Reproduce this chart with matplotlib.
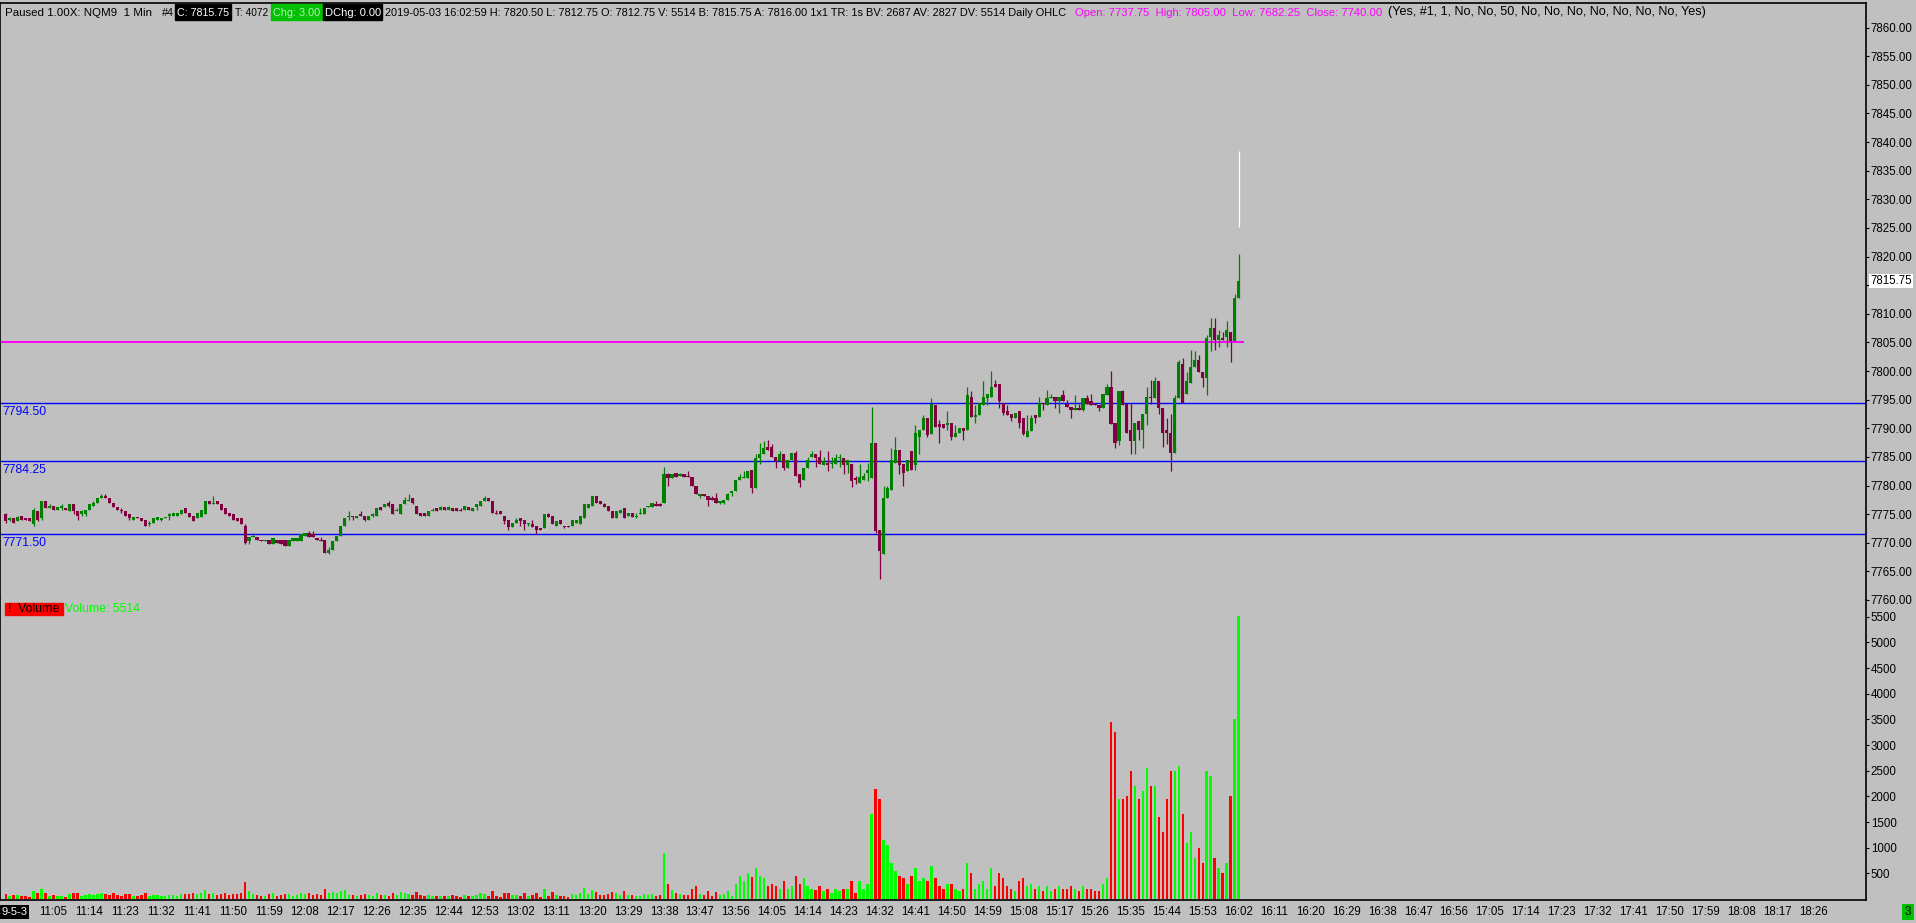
import matplotlib
matplotlib.use("Agg")
import matplotlib.pyplot as plt
from matplotlib.patches import Rectangle
import numpy as np

# ---- data: 1 minute NQM9 bars, 10:53 .. 16:02 ----
first_bar_time = "10:53"

opens = [
    7775.0, 7774.0, 7774.25, 7773.75, 7774.75, 7774.25, 7774.25, 7773.25, 7775.5, 7774.25,
    7777.25, 7776.0, 7776.5, 7775.75, 7776.0, 7776.0, 7775.5, 7776.75, 7775.5, 7775.0,
    7775.0, 7775.75, 7776.5, 7777.0, 7777.75, 7778.25, 7777.75, 7777.0, 7776.25, 7775.75,
    7775.5, 7775.0, 7774.0, 7774.5, 7774.25, 7774.0, 7773.25, 7773.5, 7774.0, 7774.0,
    7774.25, 7774.75, 7774.75, 7774.75, 7775.0, 7776.0, 7775.25, 7774.75, 7774.25, 7774.5,
    7775.0, 7777.25, 7776.75, 7777.25, 7776.75, 7776.0, 7775.25, 7775.0, 7774.25, 7774.25,
    7773.0, 7770.25, 7771.0, 7771.0, 7770.5, 7770.25, 7770.5, 7769.75, 7770.5, 7770.5,
    7770.5, 7769.5, 7770.25, 7770.25, 7770.25, 7771.25, 7771.75, 7771.5, 7770.75, 7770.5,
    7770.5, 7768.25, 7768.75, 7770.25, 7771.25, 7773.0, 7774.5, 7774.75, 7774.25, 7775.0,
    7774.75, 7774.0, 7774.75, 7774.75, 7776.25, 7776.25, 7777.0, 7776.75, 7775.5, 7775.0,
    7776.75, 7777.25, 7777.75, 7776.5, 7775.25, 7775.25, 7774.75, 7775.5, 7776.0, 7775.75,
    7776.25, 7775.75, 7776.0, 7776.0, 7775.75, 7775.75, 7776.25, 7775.5, 7776.25, 7776.5,
    7777.25, 7777.75, 7777.25, 7775.25, 7775.5, 7774.75, 7774.0, 7772.75, 7773.5, 7774.25,
    7774.0, 7773.25, 7773.25, 7773.0, 7772.5, 7772.5, 7775.0, 7774.75, 7773.0, 7774.0,
    7773.0, 7773.0, 7773.0, 7773.5, 7773.25, 7774.25, 7776.0, 7776.5, 7778.25, 7777.25,
    7776.75, 7776.5, 7775.5, 7774.25, 7775.25, 7776.0, 7774.75, 7775.25, 7774.5, 7775.0,
    7775.0, 7776.25, 7776.25, 7776.75, 7776.75, 7777.0, 7782.0, 7781.25, 7782.25, 7781.75,
    7782.0, 7781.75, 7781.5, 7780.0, 7778.25, 7778.5, 7778.25, 7777.75, 7777.75, 7777.0,
    7777.0, 7777.5, 7778.75, 7779.0, 7781.0, 7781.25, 7781.25, 7782.75, 7779.5, 7784.75,
    7785.5, 7786.75, 7786.75, 7785.0, 7784.25, 7785.5, 7783.0, 7784.5, 7785.75, 7782.0,
    7781.0, 7783.0, 7785.0, 7785.5, 7785.0, 7783.5, 7784.0, 7783.75, 7783.75, 7784.75,
    7784.75, 7783.5, 7783.75, 7781.25, 7780.5, 7781.0, 7782.25, 7781.25, 7787.5, 7772.25,
    7768.0, 7777.75, 7779.25, 7784.0, 7786.25, 7783.75, 7782.5, 7786.0, 7783.5, 7788.5,
    7789.75, 7791.75, 7789.0, 7794.0, 7790.75, 7790.75, 7790.5, 7791.0, 7788.5, 7789.25,
    7790.0, 7789.75, 7795.5, 7792.0, 7792.25, 7794.0, 7795.25, 7795.5, 7797.75, 7797.75,
    7794.5, 7793.0, 7792.5, 7791.75, 7793.0, 7791.75, 7788.5, 7789.5, 7792.25, 7792.0,
    7794.5, 7794.0, 7795.25, 7795.5, 7794.75, 7795.75, 7794.25, 7793.75, 7793.25, 7793.5,
    7793.25, 7795.25, 7794.75, 7794.25, 7794.0, 7793.5, 7795.75, 7797.25, 7791.0, 7787.75,
    7796.5, 7794.25, 7789.75, 7787.75, 7791.25, 7789.75, 7792.5, 7795.5, 7795.25, 7798.25,
    7793.5, 7789.75, 7789.25, 7785.75, 7795.25, 7801.25, 7796.0, 7798.0, 7800.75, 7802.0,
    7799.75, 7798.75, 7806.0, 7807.5, 7805.5, 7805.75, 7806.0, 7806.75, 7805.25, 7812.75,
]
highs = [
    7775.25, 7774.5, 7774.25, 7774.75, 7774.75, 7774.25, 7774.25, 7776.0, 7775.5, 7777.25,
    7777.25, 7776.75, 7776.5, 7776.25, 7776.75, 7776.0, 7776.75, 7776.75, 7775.5, 7775.75,
    7775.75, 7776.75, 7777.25, 7777.75, 7778.5, 7778.5, 7777.75, 7777.0, 7776.25, 7776.0,
    7775.5, 7775.0, 7774.5, 7774.5, 7774.25, 7774.0, 7773.75, 7774.25, 7774.5, 7774.25,
    7774.5, 7775.25, 7775.25, 7775.25, 7775.75, 7776.0, 7775.25, 7774.75, 7775.25, 7775.75,
    7777.25, 7777.25, 7778.25, 7777.25, 7776.75, 7776.0, 7775.25, 7775.0, 7774.25, 7774.25,
    7773.25, 7771.0, 7771.75, 7771.0, 7770.5, 7770.5, 7770.5, 7770.75, 7770.5, 7770.5,
    7770.5, 7770.5, 7770.75, 7770.75, 7771.5, 7771.75, 7772.0, 7772.0, 7770.75, 7771.0,
    7770.5, 7769.25, 7770.25, 7771.25, 7773.0, 7774.25, 7775.5, 7774.75, 7774.75, 7775.5,
    7774.75, 7774.75, 7775.25, 7776.0, 7776.25, 7776.75, 7777.25, 7776.75, 7776.0, 7776.75,
    7778.0, 7778.5, 7777.75, 7776.5, 7775.25, 7775.25, 7775.5, 7776.0, 7776.0, 7776.5,
    7776.25, 7776.5, 7776.0, 7776.0, 7776.0, 7776.5, 7776.25, 7776.0, 7776.75, 7777.25,
    7778.25, 7777.75, 7777.25, 7775.75, 7775.5, 7774.75, 7774.0, 7773.5, 7774.25, 7774.25,
    7774.0, 7773.5, 7774.0, 7773.0, 7772.5, 7775.0, 7775.25, 7774.75, 7773.75, 7774.0,
    7773.0, 7773.0, 7774.0, 7774.0, 7774.75, 7776.75, 7776.75, 7778.25, 7778.25, 7777.25,
    7777.0, 7776.5, 7775.5, 7775.5, 7775.75, 7776.0, 7775.25, 7775.25, 7775.25, 7776.0,
    7776.0, 7776.5, 7777.0, 7777.25, 7777.0, 7783.25, 7782.25, 7782.0, 7782.25, 7782.25,
    7782.0, 7782.5, 7781.5, 7780.0, 7778.5, 7778.5, 7778.25, 7778.25, 7778.75, 7777.25,
    7777.5, 7778.75, 7779.0, 7781.0, 7782.0, 7782.5, 7782.5, 7782.75, 7785.5, 7787.5,
    7787.75, 7788.0, 7787.25, 7785.0, 7786.0, 7785.5, 7784.5, 7785.75, 7786.0, 7782.0,
    7783.0, 7785.0, 7786.0, 7785.5, 7786.25, 7785.0, 7786.0, 7785.0, 7785.5, 7785.5,
    7784.75, 7784.5, 7783.75, 7781.75, 7783.75, 7782.25, 7784.0, 7793.75, 7787.5, 7772.25,
    7780.0, 7780.0, 7786.5, 7788.5, 7786.25, 7783.75, 7784.5, 7786.0, 7790.5, 7789.75,
    7792.25, 7791.75, 7795.25, 7794.0, 7791.5, 7790.75, 7793.0, 7791.0, 7790.5, 7790.0,
    7790.0, 7797.25, 7796.5, 7794.0, 7794.5, 7798.25, 7796.0, 7800.0, 7798.5, 7797.75,
    7794.5, 7794.0, 7792.5, 7792.75, 7793.0, 7791.75, 7792.25, 7792.25, 7792.25, 7795.5,
    7794.5, 7796.75, 7796.0, 7795.5, 7795.5, 7796.75, 7795.0, 7793.75, 7795.75, 7794.25,
    7795.25, 7795.75, 7796.0, 7794.5, 7794.0, 7796.0, 7797.75, 7800.0, 7791.0, 7796.5,
    7796.75, 7794.25, 7794.5, 7791.0, 7791.25, 7792.5, 7797.25, 7798.5, 7799.0, 7798.25,
    7793.5, 7791.75, 7792.5, 7795.75, 7802.0, 7802.25, 7799.75, 7803.75, 7803.5, 7802.75,
    7799.75, 7806.25, 7809.25, 7809.25, 7807.25, 7806.75, 7808.75, 7806.75, 7813.5, 7820.5,
]
lows = [
    7773.5, 7773.75, 7773.5, 7773.75, 7774.0, 7774.0, 7773.75, 7773.0, 7773.75, 7774.0,
    7776.0, 7776.0, 7775.75, 7775.75, 7775.75, 7775.75, 7775.5, 7775.0, 7774.0, 7774.75,
    7774.75, 7775.75, 7776.5, 7777.0, 7777.75, 7777.75, 7777.0, 7776.25, 7775.75, 7775.25,
    7774.75, 7774.0, 7774.0, 7774.25, 7773.75, 7773.0, 7773.0, 7773.5, 7774.0, 7773.75,
    7774.25, 7774.0, 7774.75, 7774.75, 7775.0, 7775.25, 7774.5, 7773.75, 7774.25, 7774.5,
    7775.0, 7776.75, 7776.75, 7776.75, 7775.75, 7775.0, 7774.75, 7774.0, 7773.75, 7773.25,
    7769.75, 7769.75, 7771.0, 7770.5, 7770.25, 7770.25, 7769.75, 7769.75, 7770.0, 7769.75,
    7769.5, 7769.5, 7770.25, 7770.25, 7770.25, 7771.25, 7771.0, 7771.0, 7770.5, 7770.25,
    7768.25, 7768.0, 7768.75, 7770.25, 7771.25, 7773.0, 7774.0, 7774.0, 7774.25, 7774.75,
    7773.75, 7774.0, 7774.5, 7774.75, 7775.75, 7776.25, 7776.25, 7775.0, 7775.5, 7775.0,
    7776.75, 7777.25, 7776.75, 7775.0, 7774.75, 7774.75, 7774.75, 7775.5, 7775.5, 7775.75,
    7775.75, 7775.75, 7775.5, 7775.5, 7775.5, 7775.75, 7775.75, 7775.5, 7775.75, 7776.5,
    7777.25, 7777.25, 7775.25, 7775.0, 7775.0, 7773.25, 7772.25, 7772.75, 7773.5, 7773.0,
    7772.25, 7773.0, 7772.75, 7771.5, 7772.25, 7772.5, 7774.5, 7773.25, 7773.0, 7773.25,
    7772.5, 7772.75, 7773.0, 7773.5, 7773.25, 7774.25, 7776.0, 7776.5, 7777.0, 7776.75,
    7776.25, 7775.5, 7774.25, 7774.25, 7775.25, 7774.25, 7774.75, 7774.5, 7774.25, 7775.0,
    7775.0, 7776.25, 7776.25, 7776.5, 7776.5, 7777.0, 7780.0, 7781.25, 7781.5, 7781.75,
    7781.5, 7781.5, 7780.0, 7778.5, 7777.75, 7778.25, 7776.5, 7777.5, 7777.0, 7776.75,
    7776.75, 7777.5, 7778.25, 7779.0, 7781.0, 7781.25, 7781.25, 7778.75, 7779.5, 7783.75,
    7785.5, 7786.25, 7785.0, 7783.0, 7784.25, 7782.75, 7783.0, 7784.5, 7781.75, 7779.75,
    7781.0, 7783.0, 7785.0, 7783.25, 7783.75, 7783.5, 7782.5, 7783.0, 7783.75, 7783.25,
    7782.0, 7782.25, 7779.75, 7780.25, 7780.5, 7781.0, 7780.75, 7781.25, 7771.75, 7763.75,
    7768.0, 7777.75, 7779.25, 7784.0, 7782.0, 7780.0, 7782.5, 7782.75, 7782.75, 7785.5,
    7789.75, 7788.5, 7789.0, 7790.25, 7787.5, 7790.0, 7789.75, 7788.0, 7788.5, 7789.25,
    7788.0, 7789.75, 7792.0, 7791.0, 7792.25, 7794.0, 7794.0, 7795.5, 7797.25, 7793.5,
    7792.25, 7792.25, 7791.25, 7791.75, 7790.0, 7788.75, 7788.5, 7789.5, 7791.0, 7792.0,
    7793.25, 7794.0, 7795.25, 7793.5, 7792.75, 7794.75, 7793.75, 7791.75, 7793.25, 7793.25,
    7793.0, 7794.25, 7794.0, 7794.0, 7793.0, 7793.5, 7795.75, 7790.75, 7786.5, 7787.0,
    7794.0, 7789.25, 7785.5, 7785.5, 7788.0, 7786.5, 7790.5, 7794.25, 7795.25, 7792.5,
    7786.75, 7787.25, 7782.5, 7785.75, 7795.25, 7794.5, 7796.0, 7798.0, 7800.75, 7799.75,
    7797.25, 7795.75, 7803.5, 7803.75, 7804.25, 7805.5, 7804.25, 7801.5, 7805.25, 7812.75,
]
closes = [
    7773.75, 7774.25, 7773.5, 7774.5, 7774.0, 7774.0, 7773.75, 7775.75, 7774.0, 7777.25,
    7776.0, 7776.5, 7775.75, 7776.25, 7776.5, 7775.75, 7776.75, 7775.5, 7774.75, 7775.5,
    7775.75, 7776.75, 7777.0, 7777.75, 7778.25, 7777.75, 7777.0, 7776.25, 7775.75, 7775.5,
    7774.75, 7774.25, 7774.5, 7774.25, 7773.75, 7773.0, 7773.5, 7774.25, 7774.5, 7774.25,
    7774.5, 7775.0, 7775.25, 7775.25, 7775.75, 7775.25, 7774.5, 7773.75, 7775.25, 7775.75,
    7777.25, 7776.75, 7777.0, 7776.75, 7775.75, 7775.0, 7774.75, 7774.0, 7773.75, 7773.25,
    7770.0, 7771.0, 7771.25, 7770.5, 7770.25, 7770.5, 7769.75, 7770.75, 7770.0, 7769.75,
    7769.5, 7770.5, 7770.75, 7770.75, 7771.5, 7771.75, 7771.0, 7771.0, 7770.5, 7770.25,
    7768.25, 7768.75, 7770.25, 7771.25, 7773.0, 7774.25, 7774.75, 7774.5, 7774.75, 7774.75,
    7774.0, 7774.75, 7775.0, 7776.0, 7775.75, 7776.75, 7776.5, 7775.0, 7775.75, 7776.75,
    7777.5, 7777.5, 7777.0, 7775.0, 7774.75, 7774.75, 7775.5, 7775.75, 7775.5, 7776.25,
    7775.75, 7776.25, 7775.5, 7775.5, 7775.5, 7776.5, 7775.75, 7776.0, 7776.75, 7777.25,
    7777.75, 7777.25, 7775.25, 7775.0, 7775.0, 7773.75, 7772.75, 7773.5, 7774.0, 7773.75,
    7773.25, 7773.5, 7772.75, 7772.25, 7772.25, 7775.0, 7774.5, 7773.25, 7773.75, 7773.25,
    7772.75, 7772.75, 7774.0, 7774.0, 7774.75, 7776.75, 7776.75, 7778.25, 7777.0, 7776.75,
    7776.25, 7775.5, 7774.25, 7775.5, 7775.75, 7774.25, 7775.25, 7774.5, 7774.75, 7775.25,
    7776.0, 7776.5, 7777.0, 7776.5, 7776.5, 7782.0, 7781.25, 7782.0, 7781.5, 7782.0,
    7781.5, 7781.5, 7780.0, 7778.5, 7778.5, 7778.25, 7777.5, 7777.5, 7777.0, 7777.25,
    7777.5, 7778.5, 7779.0, 7781.0, 7781.5, 7781.5, 7782.5, 7779.5, 7784.75, 7785.5,
    7786.5, 7786.25, 7785.0, 7784.25, 7785.5, 7783.0, 7784.5, 7785.75, 7781.75, 7780.5,
    7783.0, 7784.5, 7785.5, 7784.75, 7783.75, 7784.25, 7783.5, 7784.0, 7784.75, 7785.0,
    7783.5, 7784.5, 7780.75, 7781.0, 7781.5, 7781.75, 7782.75, 7787.5, 7772.0, 7768.5,
    7777.75, 7779.5, 7784.5, 7786.25, 7783.5, 7782.25, 7784.5, 7782.75, 7789.25, 7789.75,
    7791.75, 7788.75, 7794.25, 7790.25, 7790.25, 7790.0, 7791.0, 7788.5, 7789.25, 7790.0,
    7789.5, 7795.75, 7792.0, 7792.25, 7794.5, 7795.5, 7796.0, 7797.25, 7797.25, 7794.75,
    7792.75, 7792.25, 7791.75, 7792.75, 7791.0, 7789.0, 7789.5, 7791.75, 7791.75, 7794.5,
    7794.25, 7795.25, 7795.5, 7794.75, 7795.5, 7794.75, 7793.75, 7793.25, 7793.5, 7793.25,
    7795.25, 7794.25, 7794.0, 7794.0, 7793.5, 7796.0, 7797.25, 7790.75, 7787.5, 7796.5,
    7794.0, 7789.25, 7787.75, 7791.0, 7789.75, 7792.5, 7795.5, 7795.25, 7798.25, 7793.5,
    7789.25, 7789.25, 7785.75, 7795.25, 7801.5, 7794.5, 7798.25, 7800.75, 7802.0, 7799.75,
    7798.75, 7805.75, 7807.5, 7805.5, 7806.25, 7805.5, 7807.25, 7805.25, 7812.75, 7815.75,
]
volumes = [
    90, 60, 70, 80, 50, 60, 40, 150, 110, 200,
    120, 60, 80, 50, 60, 40, 90, 110, 120, 60,
    70, 100, 80, 90, 120, 90, 80, 110, 70, 60,
    90, 100, 60, 50, 70, 110, 60, 80, 70, 50,
    60, 70, 80, 60, 90, 100, 90, 110, 100, 120,
    180, 90, 120, 70, 100, 110, 80, 100, 90, 120,
    330, 150, 90, 80, 60, 50, 90, 110, 60, 80,
    90, 100, 60, 80, 120, 90, 110, 80, 90, 70,
    200, 120, 130, 110, 150, 170, 80, 70, 60, 70,
    90, 80, 60, 110, 70, 80, 60, 120, 70, 130,
    110, 90, 80, 130, 70, 60, 80, 50, 60, 50,
    60, 50, 70, 60, 40, 70, 50, 60, 80, 110,
    90, 60, 160, 50, 40, 110, 120, 80, 70, 60,
    110, 50, 70, 120, 40, 200, 60, 130, 70, 60,
    50, 40, 90, 70, 110, 220, 90, 180, 140, 70,
    80, 100, 130, 120, 70, 160, 80, 70, 60, 50,
    90, 70, 100, 60, 70, 900, 300, 180, 120, 90,
    80, 70, 200, 250, 90, 70, 150, 60, 130, 70,
    90, 150, 60, 300, 450, 350, 500, 420, 600, 450,
    400, 250, 300, 250, 200, 350, 200, 250, 450, 300,
    400, 250, 200, 180, 250, 150, 200, 120, 200, 150,
    200, 200, 350, 120, 350, 200, 300, 1650, 2150, 1950,
    1150, 1050, 700, 550, 450, 400, 300, 450, 600, 350,
    400, 350, 650, 400, 250, 200, 300, 300, 200, 150,
    200, 700, 500, 200, 300, 350, 200, 600, 250, 500,
    400, 250, 200, 150, 350, 400, 250, 300, 200, 250,
    150, 250, 150, 200, 250, 200, 200, 250, 200, 150,
    250, 200, 200, 150, 150, 300, 400, 3450, 3250, 1950,
    1950, 2000, 2500, 2200, 1950, 2100, 2550, 2200, 2200, 1600,
    1300, 1950, 2500, 2500, 2600, 1650, 1100, 1300, 800, 1000,
    700, 2500, 2400, 800, 600, 500, 700, 2000, 3500, 5514,
]

time_labels = [
    "11:05", "11:14", "11:23", "11:32", "11:41", "11:50", "11:59", "12:08", "12:17", "12:26",
    "12:35", "12:44", "12:53", "13:02", "13:11", "13:20", "13:29", "13:38", "13:47", "13:56",
    "14:05", "14:14", "14:23", "14:32", "14:41", "14:50", "14:59", "15:08", "15:17", "15:26",
    "15:35", "15:44", "15:53", "16:02", "16:11", "16:20", "16:29", "16:38", "16:47", "16:56",
    "17:05", "17:14", "17:23", "17:32", "17:41", "17:50", "17:59", "18:08", "18:17", "18:26",
]
price_ticks = list(range(7760, 7861, 5))
volume_ticks = list(range(500, 5501, 500))

levels = [7794.50, 7784.25, 7771.50]   # blue lines
daily_high = 7805.00                   # magenta line
last_price = 7815.75
marker_range = (7825.25, 7838.50)      # white line over last bar

header = [
    ("Paused 1.00X: NQM9  1 Min", 5, 150, "black"),
    ("#4", 162, 174, "black"),
    ("C: 7815.75", 177, 229, "white"),
    ("T: 4072", 235, 268, "black"),
    ("Chg: 3.00", 273, 320, "#b8f0b8"),
    ("DChg: 0.00", 325, 381, "white"),
    ("2019-05-03 16:02:59 H: 7820.50 L: 7812.75 O: 7812.75 V: 5514 B: 7815.75 A: 7816.00 "
     "1x1 TR: 1s BV: 2687 AV: 2827 DV: 5514 Daily OHLC", 385, 1068, "black"),
    ("Open: 7737.75  High: 7805.00  Low: 7682.25  Close: 7740.00", 1075, 1379, "#ff00ff"),
    ("(Yes, #1, 1, No, No, 50, No, No, No, No, No, No, No, Yes)", 1388, 1707, "black"),
]
header_boxes = [(175, 231, "black"), (271, 322, "#00c000"), (323, 382, "black")]

# ---- layout ----
W, H = 1916, 923
BG = "#c0c0c0"
UP, DOWN = "#008000", "#800040"
VUP, VDOWN = "#00ff00", "#ff0000"
FONT = ["Liberation Sans", "DejaVu Sans"]

PX_BAR = 3.99      # pixels per minute
X_FIRST = 5.7      # pixel of first bar
RIGHT = 1866       # price scale line
TOP, SPLIT, BOTTOM = 3, 600, 900

fig = plt.figure(figsize=(W / 100, H / 100), dpi=100, facecolor=BG)


def fy(py):
    return 1 - py / H


ax_p = fig.add_axes([0, fy(SPLIT), RIGHT / W, (SPLIT - TOP) / H], facecolor=BG)
ax_v = fig.add_axes([0, fy(BOTTOM), RIGHT / W, (BOTTOM - SPLIT) / H], facecolor=BG, sharex=ax_p)

xlim = (-X_FIRST / PX_BAR, (RIGHT - X_FIRST) / PX_BAR)
ppx = 5.644  # pixels per point on price scale
ax_p.set_ylim(7760 - (591.7 - SPLIT) / ppx, 7860 + (27.3 - TOP) / ppx)
vpx = 0.05132
ax_v.set_ylim(-(BOTTOM - 899) / vpx, (899 - SPLIT) / vpx)
ax_p.set_xlim(*xlim)

o = np.array(opens)
h = np.array(highs)
l = np.array(lows)
c = np.array(closes)
v = np.array(volumes)
x = np.arange(len(c))
up = c >= o

# candles
ax_p.vlines(x, l, h, colors=np.where(up, UP, DOWN), lw=0.9, zorder=3)
body = np.maximum(np.abs(c - o), 0.22)
ax_p.bar(x, body, bottom=np.minimum(o, c), width=0.8, color=np.where(up, UP, DOWN),
         linewidth=0, zorder=4)

# levels
for lvl in levels:
    ax_p.axhline(lvl, color="#0000ff", lw=1.0, zorder=2)
    ax_p.annotate(f"{lvl:.2f}", xy=(0, lvl), xycoords=("axes fraction", "data"),
                  xytext=(2, -3), textcoords="offset pixels", va="top", ha="left",
                  color="#0000ff", fontsize=8.8, family=FONT)
ax_p.hlines(daily_high, xlim[0], len(c) + 0.4, color="#ff00ff", lw=1.4, zorder=2)
ax_p.vlines(len(c) - 1, *marker_range, color="white", lw=0.9, zorder=5)

# volume
ax_v.bar(x, v, width=0.6, color=np.where(up, VUP, VDOWN), linewidth=0)

# axes styling
for ax, ticks, fmt in ((ax_p, price_ticks, "{:.2f}"), (ax_v, volume_ticks, "{:d}")):
    ax.yaxis.tick_right()
    ax.set_yticks(ticks)
    labels = [fmt.format(t) for t in ticks]
    if ax is ax_p:
        # the live price box sits on top of this label
        labels = ["" if abs(t - last_price) < 2.5 else s for t, s in zip(ticks, labels)]
    ax.set_yticklabels(labels, family=FONT, fontsize=8.3)
    ax.tick_params(axis="y", direction="out", length=2.5, width=0.8, pad=1, colors="black")
    for side in ("left", "right"):
        ax.spines[side].set_color("black")
        ax.spines[side].set_linewidth(1.2)
ax_p.spines["bottom"].set_visible(False)
ax_v.spines["top"].set_visible(False)
ax_p.spines["top"].set_linewidth(1.2)
ax_v.spines["bottom"].set_linewidth(1.2)
ax_p.tick_params(axis="x", bottom=False, labelbottom=False)

h0, m0 = map(int, first_bar_time.split(":"))
tick_pos = []
for lab in time_labels:
    hh, mm = map(int, lab.split(":"))
    tick_pos.append((hh * 60 + mm) - (h0 * 60 + m0))
ax_v.set_xticks(tick_pos)
ax_v.set_xticklabels(time_labels, family=FONT, fontsize=8.3)
ax_v.tick_params(axis="x", length=0, pad=4, colors="black")

# header line
renderer = fig.canvas.get_renderer()
for x0, x1, col in header_boxes:
    fig.patches.append(Rectangle((x0 / W, fy(20)), (x1 - x0) / W, 16 / H,
                                 transform=fig.transFigure, color=col, zorder=1))
for s, x0, x1, col in header:
    t = fig.text(x0 / W, fy(12.5), s, color=col, fontsize=8.6, family=FONT,
                 va="center", ha="left", zorder=3)
    w = t.get_window_extent(renderer).width
    if w > 0:
        t.set_fontsize(8.6 * min(max((x1 - x0) / w, 0.75), 1.3))

# volume study label
fig.patches.append(Rectangle((5 / W, fy(615)), 58 / W, 12 / H, transform=fig.transFigure,
                             color="#ff0000", zorder=1))
fig.text(8 / W, fy(609), "!  Volume", color="black", fontsize=8.8, family=FONT, va="center")
fig.text(65 / W, fy(609), f"Volume: {volumes[-1]}", color="#00ff00", fontsize=8.8,
         family=FONT, va="center")

# last price box on the scale
ax_p.annotate(f"{last_price:.2f}", xy=(1, last_price), xycoords=("axes fraction", "data"),
              xytext=(4, 0), textcoords="offset pixels", va="center", ha="left",
              fontsize=8.3, family=FONT, color="black",
              bbox=dict(boxstyle="square,pad=0.12", fc="white", ec="none"), zorder=6,
              annotation_clip=False)

# date box and the small green box at the bottom
fig.text(1 / W, fy(912), "9-5-3", color="white", fontsize=8, family=FONT, va="center",
         ha="left", bbox=dict(boxstyle="square,pad=0.15", fc="black", ec="none"))
fig.text(1908 / W, fy(912), "3", color="black", fontsize=8.4, family=FONT, va="center",
         ha="center", bbox=dict(boxstyle="square,pad=0.2", fc="#00c000", ec="none"))

fig.savefig("out.png", dpi=100, facecolor=BG)
